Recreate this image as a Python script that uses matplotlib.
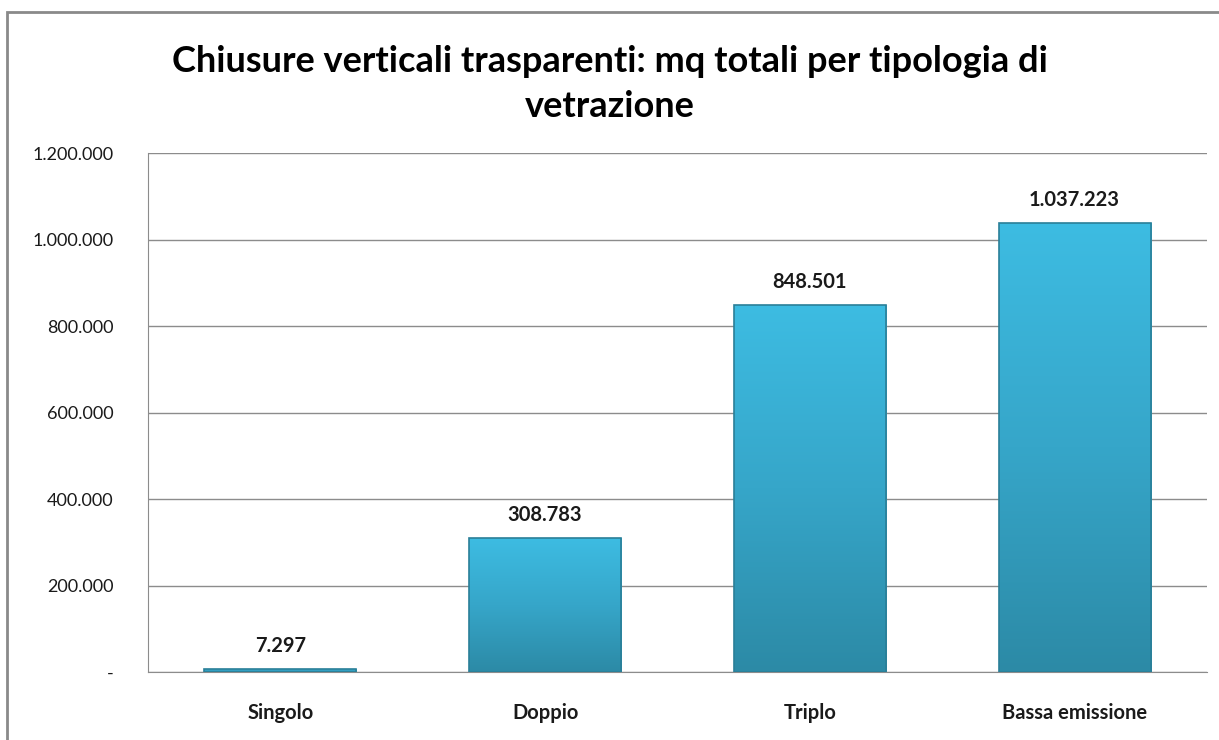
import matplotlib
matplotlib.use("Agg")
import matplotlib.pyplot as plt
import numpy as np
from matplotlib.colors import LinearSegmentedColormap
from matplotlib.patches import Rectangle
from matplotlib.ticker import FuncFormatter

categorie = ["Singolo", "Doppio", "Triplo", "Bassa emissione"]
mq = [7297, 308783, 848501, 1037223]
y_ticks = [0, 200000, 400000, 600000, 800000, 1000000, 1200000]

plt.rcParams['font.family'] = ['Lato', 'DejaVu Sans']


def fmt_it(v, pos=None):
    if v == 0:
        return "-"
    return "{:,.0f}".format(v).replace(",", ".")


fig = plt.figure(figsize=(12.19, 7.40), dpi=100)
ax = fig.add_axes([148 / 1219, 1 - 672 / 740, (1207 - 148) / 1219, (672 - 153) / 740])

# cornice grigia del grafico
fig.patches.append(Rectangle((7 / 1219, -0.05), 1.2, 1 - 12 / 740 + 0.05,
                             transform=fig.transFigure, fill=False,
                             edgecolor='#8a8a8a', linewidth=2))

x = np.arange(len(categorie))
bars = ax.bar(x, mq, width=0.575, color='none', edgecolor='none', zorder=3)

cmap = LinearSegmentedColormap.from_list('blu', ['#2c8aa6', '#36a6c9', '#3dbce2'])
grad = np.linspace(0, 1, 256).reshape(-1, 1)
for b in bars:
    x0, w, h = b.get_x(), b.get_width(), b.get_height()
    im = ax.imshow(grad, cmap=cmap, origin='lower', aspect='auto',
                   extent=[x0, x0 + w, 0, h], zorder=3)
    im.set_clip_path(b)
    ax.add_patch(Rectangle((x0, 0), w, h, fill=False, edgecolor='#2a7f98',
                           linewidth=1.2, zorder=4))
    ax.text(x0 + w / 2, h + 30000, fmt_it(h), ha='center', va='bottom',
            fontsize=14.5, fontweight='bold', color='#1a1a1a')

ax.set_xlim(-0.5, len(categorie) - 0.5)
ax.set_ylim(0, 1200000)
ax.set_yticks(y_ticks)
ax.yaxis.set_major_formatter(FuncFormatter(fmt_it))
ax.set_xticks(x)
ax.set_xticklabels(categorie, fontsize=14.5, fontweight='bold')
ax.tick_params(axis='y', labelsize=13, length=0, pad=25, colors='#1a1a1a')
ax.tick_params(axis='x', length=0, pad=22, colors='#1a1a1a')
for lbl in ax.get_yticklabels():
    lbl.set_horizontalalignment('right')

ax.grid(axis='y', color='#8c8c8c', linewidth=1)
ax.set_axisbelow(True)
for s in ['top', 'right']:
    ax.spines[s].set_visible(False)
for s in ['left', 'bottom']:
    ax.spines[s].set_color('#8c8c8c')

fig.text(0.5, 1 - 84 / 740, "Chiusure verticali trasparenti: mq totali per tipologia di\nvetrazione",
         ha='center', va='center', fontsize=26, fontweight='bold',
         linespacing=1.45, color='black')

fig.savefig("out.png", dpi=100)
